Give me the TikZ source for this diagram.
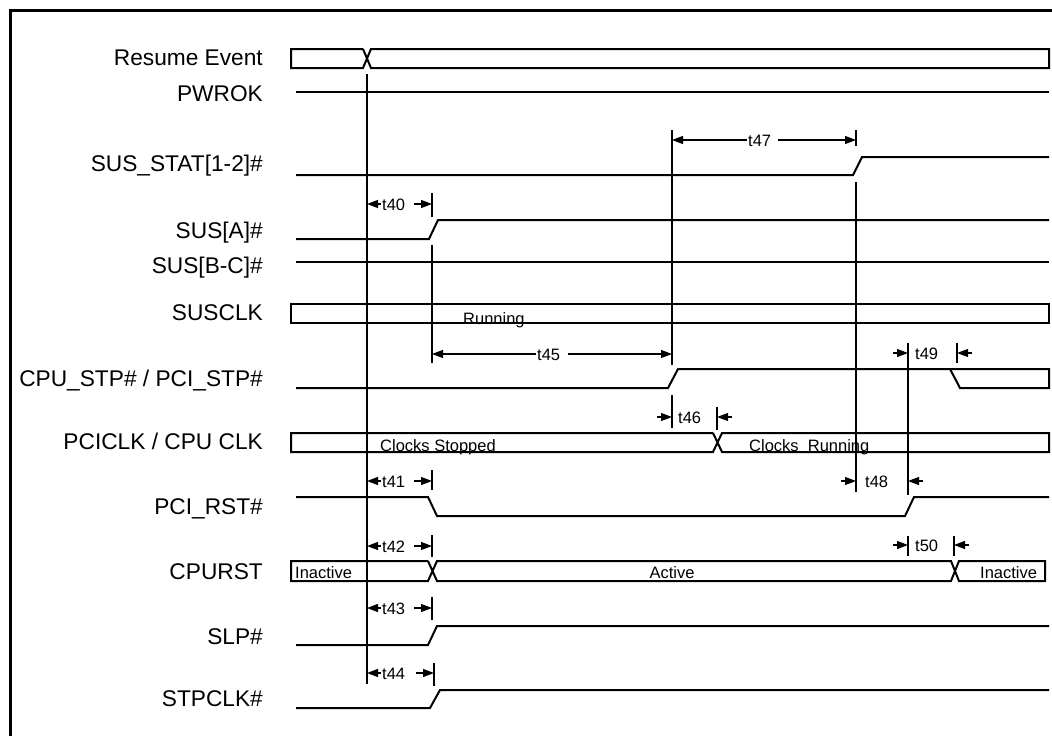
\documentclass[tikz,border=0pt]{standalone}
\usepackage{fontspec}
\setmainfont{Liberation Sans}
\usetikzlibrary{arrows.meta}
\begin{document}
\begin{tikzpicture}[x=1pt,y=-1pt,
  sig/.style={line width=2pt,line join=miter},
  vline/.style={line width=1.6pt},
  dimline/.style={line width=1.1pt,-{Triangle[length=11pt,width=8pt]}},
  lbl/.style={anchor=base east,inner sep=0pt,font=\fontsize{22.7}{27}\selectfont},
  small/.style={anchor=base west,inner sep=0pt,font=\fontsize{16.5}{20}\selectfont}]
\useasboundingbox (0,0) rectangle (1052,736);
\fill[white] (0,0) rectangle (1052,736);
% frame
\draw[line width=3pt] (10,760) -- (10,10.5) -- (1080,10.5);

% labels
\node[lbl] (lResume) at (263,65) {Resume Event};
\node[lbl] (lPwrok) at (263,101) {PWROK};
\node[lbl] (lSusStat) at (263,171) {SUS\_STAT[1-2]\#};
\node[lbl] (lSusA) at (263,238) {SUS[A]\#};
\node[lbl] (lSusBC) at (263,273) {SUS[B-C]\#};
\node[lbl] (lSusclk) at (263,320) {SUSCLK};
\node[lbl] (lCpuStp) at (263,386) {CPU\_STP\# / PCI\_STP\#};
\node[lbl] (lPciclk) at (263,449) {PCICLK / CPU CLK};
\node[lbl] (lPciRst) at (263,514) {PCI\_RST\#};
\node[lbl] (lCpurst) at (263,579) {CPURST};
\node[lbl] (lSlp) at (263,644) {SLP\#};
\node[lbl] (lStpclk) at (263,706) {STPCLK\#};

% Resume Event bus
\draw[sig] (363,49) -- (291,49) -- (291,68) -- (363,68) -- (371,49) -- (1049,49) -- (1049,68) -- (371,68) -- (363,49);
% PWROK
\draw[sig] (296,92) -- (1049,92);
% SUS_STAT
\draw[sig] (296,175) -- (853,175) -- (862,157) -- (1049,157);
% SUS[A]
\draw[sig] (296,239) -- (429,239) -- (438,220) -- (1049,220);
% SUS[B-C]
\draw[sig] (296,262) -- (1049,262);
% SUSCLK
\draw[sig] (291,304) rectangle (1049,323);
\node[small] (tRunning) at (463,324) {Running};
% CPU_STP
\draw[sig] (296,388) -- (668,388) -- (678,369) -- (1049,369) -- (1049,388) -- (960,388) -- (950,369);
% PCICLK
\draw[sig] (713,433) -- (291,433) -- (291,452) -- (713,452) -- (722,433) -- (1049,433) -- (1049,452) -- (722,452) -- (713,433);
\node[small] (tStopped) at (380,451) {Clocks Stopped};
\node[small] (tRunning2) at (749,451) {Clocks\ \ Running};
% PCI_RST
\draw[sig] (296,497) -- (428,497) -- (437,516) -- (905,516) -- (914,497) -- (1049,497);
% CPURST
\draw[sig] (428,561) -- (291,561) -- (291,581) -- (428,581) -- (437,561) -- (951,561) -- (959,581) -- (1045,581) -- (1045,561) -- (959,561) -- (951,581) -- (437,581) -- (428,561);
\node[small] (tInact1) at (295,578) {Inactive};
\node[small,anchor=base] (tActive) at (672,578) {Active};
\node[small] (tInact2) at (980,578) {Inactive};
% SLP
\draw[sig] (296,645) -- (428,645) -- (437,626) -- (1049,626);
% STPCLK
\draw[sig] (296,708) -- (430,708) -- (440,690) -- (1049,690);

% vertical reference lines
\draw[vline] (367,74) -- (367,684);
\draw[vline] (432,193) -- (432,217);
\draw[vline] (432,245) -- (432,363);
\draw[vline] (432,470) -- (432,490);
\draw[vline] (432,535) -- (432,557);
\draw[vline] (432,597) -- (432,620);
\draw[vline] (434,663) -- (434,686);
\draw[vline] (672,130) -- (672,365);
\draw[vline] (672,395) -- (672,428);
\draw[vline] (717,407) -- (717,430);
\draw[vline] (856,130) -- (856,146);
\draw[vline] (856,182) -- (856,492);
\draw[vline] (908,343) -- (908,495);
\draw[vline] (908,536) -- (908,556);
\draw[vline] (957,343) -- (957,363);
\draw[vline] (954,536) -- (954,556);

% inner dimensions
\node[small] (t40) at (382,210) {t40};
\draw[dimline] (381,204) -- (367,204);
\draw[dimline] (414,204) -- (432,204);
\node[small] (t41) at (382,487) {t41};
\draw[dimline] (381,481) -- (367,481);
\draw[dimline] (414,481) -- (432,481);
\node[small] (t42) at (382,552) {t42};
\draw[dimline] (381,546) -- (367,546);
\draw[dimline] (414,546) -- (432,546);
\node[small] (t43) at (382,614) {t43};
\draw[dimline] (381,608) -- (367,608);
\draw[dimline] (414,608) -- (432,608);
\node[small] (t44) at (382,679) {t44};
\draw[dimline] (381,673) -- (367,673);
\draw[dimline] (416,673) -- (434,673);
\node[small] (t45) at (537,360) {t45};
\draw[dimline] (536,354) -- (432,354);
\draw[dimline] (568,354) -- (672,354);
\node[small] (t47) at (748,146) {t47};
\draw[dimline] (747,140) -- (672,140);
\draw[dimline] (778,140) -- (856,140);

% outer dimensions
\node[small] (t46) at (678,423) {t46};
\draw[dimline] (657,417) -- (672,417);
\draw[dimline] (732,417) -- (717,417);
\node[small] (t48) at (865,487) {t48};
\draw[dimline] (841,481) -- (856,481);
\draw[dimline] (923,481) -- (908,481);
\node[small] (t49) at (915,359) {t49};
\draw[dimline] (893,353) -- (908,353);
\draw[dimline] (972,353) -- (957,353);
\node[small] (t50) at (915,551) {t50};
\draw[dimline] (893,545) -- (908,545);
\draw[dimline] (969,545) -- (954,545);
\end{tikzpicture}
\end{document}
